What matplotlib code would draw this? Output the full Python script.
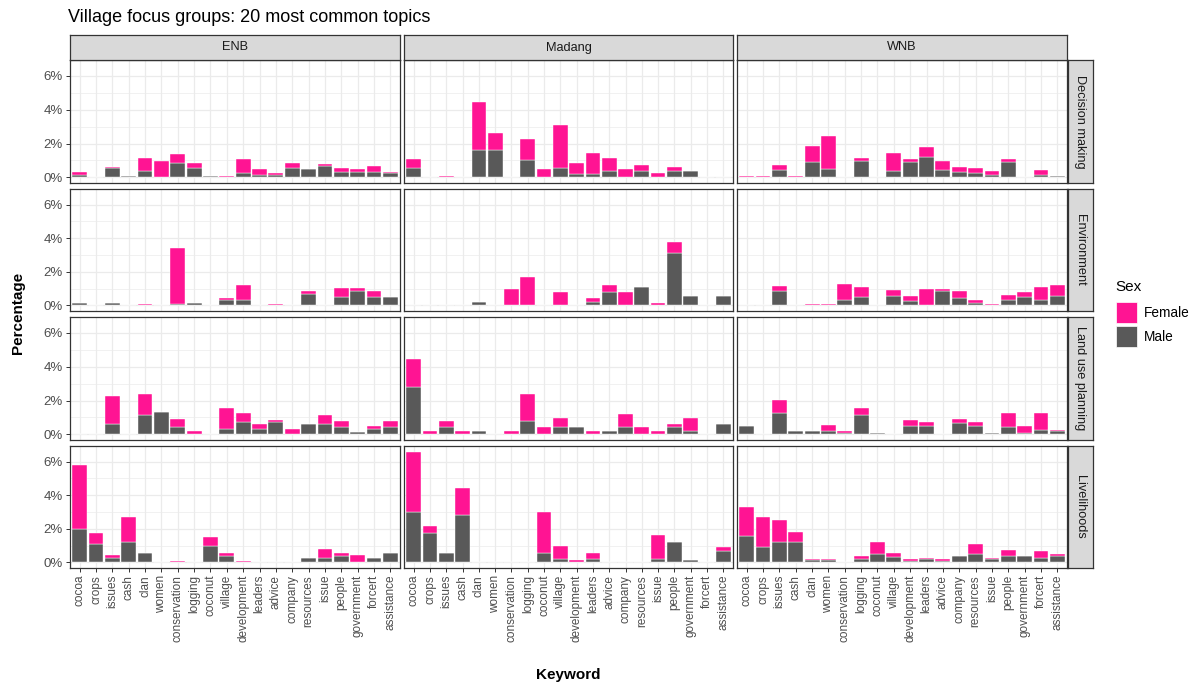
import matplotlib
matplotlib.use("Agg")
import matplotlib.pyplot as plt
from matplotlib.patches import Rectangle
from matplotlib.ticker import FuncFormatter, MultipleLocator
import numpy as np

plt.rcParams['font.family'] = ['Liberation Sans', 'DejaVu Sans']

keywords = ["cocoa", "crops", "issues", "cash", "clan", "women", "conservation",
            "logging", "coconut", "village", "development", "leaders", "advice",
            "company", "resources", "issue", "people", "government", "forcert",
            "assistance"]
regions = ["ENB", "Madang", "WNB"]
topics = ["Decision making", "Environment", "Land use planning", "Livelihoods"]

# percentages, one value per keyword
male_enb_decision = [0.14, 0, 0.53, 0.06, 0.40, 0, 0.85, 0.57, 0.06, 0, 0.26, 0.12, 0.12, 0.57, 0.50, 0.65, 0.32, 0.32, 0.32, 0.26]
female_enb_decision = [0.20, 0, 0.06, 0, 0.73, 0.95, 0.54, 0.26, 0, 0.06, 0.81, 0.38, 0.12, 0.26, 0, 0.12, 0.25, 0.18, 0.37, 0.06]
male_madang_decision = [0.57, 0, 0, 0, 1.64, 1.64, 0, 1.01, 0, 0.57, 0.18, 0.18, 0.38, 0, 0.38, 0, 0.38, 0.38, 0, 0]
female_madang_decision = [0.50, 0, 0.10, 0, 2.82, 0.96, 0, 1.27, 0.50, 2.52, 0.65, 1.29, 0.75, 0.50, 0.37, 0.26, 0.25, 0, 0, 0]
male_wnb_decision = [0, 0, 0.44, 0, 0.89, 0.50, 0, 0.97, 0, 0.38, 0.89, 1.19, 0.44, 0.32, 0.24, 0.12, 0.89, 0, 0.12, 0.06]
female_wnb_decision = [0.06, 0.06, 0.31, 0.06, 0.99, 1.94, 0, 0.16, 0, 1.07, 0.18, 0.61, 0.51, 0.31, 0.33, 0.24, 0.18, 0, 0.32, 0]

male_enb_environment = [0.12, 0, 0.12, 0, 0, 0, 0.10, 0.12, 0, 0.32, 0.32, 0, 0, 0, 0.67, 0, 0.48, 0.85, 0.48, 0.48]
female_enb_environment = [0, 0, 0, 0, 0.10, 0, 3.33, 0, 0, 0.14, 0.89, 0, 0.10, 0, 0.18, 0, 0.55, 0.18, 0.37, 0]
male_madang_environment = [0, 0, 0, 0, 0.22, 0, 0, 0, 0, 0, 0, 0.22, 0.79, 0, 1.11, 0, 3.11, 0.55, 0, 0.55]
female_madang_environment = [0, 0, 0, 0, 0, 0, 0.97, 1.68, 0, 0.79, 0, 0.20, 0.44, 0.79, 0, 0.14, 0.65, 0, 0, 0]
male_wnb_environment = [0, 0, 0.85, 0, 0, 0, 0.32, 0.48, 0, 0.57, 0.24, 0.04, 0.85, 0.42, 0.12, 0, 0.30, 0.48, 0.30, 0.55]
female_wnb_environment = [0, 0, 0.32, 0, 0.06, 0.06, 0.97, 0.63, 0, 0.36, 0.31, 0.93, 0.12, 0.43, 0.18, 0.06, 0.31, 0.31, 0.81, 0.68]

male_enb_landuse = [0, 0, 0.60, 0, 1.17, 1.35, 0.44, 0, 0, 0.30, 0.72, 0.30, 0.74, 0, 0.60, 0.60, 0.44, 0.16, 0.30, 0.44]
female_enb_landuse = [0, 0, 1.69, 0, 1.24, 0, 0.49, 0.22, 0, 1.25, 0.57, 0.30, 0.13, 0.34, 0, 0.57, 0.34, 0, 0.22, 0.34]
male_madang_landuse = [2.80, 0, 0.44, 0, 0.22, 0, 0, 0.78, 0, 0.44, 0.44, 0, 0.22, 0.44, 0, 0, 0.44, 0.22, 0, 0.60]
female_madang_landuse = [1.63, 0.22, 0.34, 0.22, 0, 0, 0.22, 1.63, 0.44, 0.55, 0, 0.22, 0, 0.79, 0.44, 0.22, 0.16, 0.77, 0, 0]
male_wnb_landuse = [0.50, 0, 1.29, 0.22, 0.22, 0.22, 0.10, 1.17, 0.10, 0, 0.48, 0.48, 0, 0.66, 0.48, 0.10, 0.42, 0.10, 0.28, 0.22]
female_wnb_landuse = [0, 0, 0.76, 0, 0, 0.32, 0.12, 0.38, 0, 0, 0.39, 0.24, 0, 0.27, 0.24, 0, 0.87, 0.38, 1.01, 0.06]

male_enb_livelihoods = [2.00, 1.07, 0.26, 1.19, 0.56, 0, 0, 0, 0.95, 0.38, 0, 0, 0, 0, 0.24, 0.24, 0.38, 0, 0.24, 0.56]
female_enb_livelihoods = [3.82, 0.68, 0.18, 1.49, 0, 0, 0.10, 0, 0.54, 0.18, 0.10, 0, 0, 0, 0, 0.56, 0.18, 0.44, 0, 0]
male_madang_livelihoods = [2.98, 1.74, 0.56, 2.80, 0, 0, 0, 0, 0.56, 0.20, 0, 0.20, 0, 0, 0, 0.20, 1.24, 0.16, 0, 0.70]
female_madang_livelihoods = [3.62, 0.44, 0, 1.62, 0, 0, 0, 0, 2.42, 0.80, 0.16, 0.36, 0, 0, 0, 1.44, 0, 0, 0, 0.22]
male_wnb_livelihoods = [1.56, 0.94, 1.22, 1.22, 0.12, 0.12, 0, 0.18, 0.50, 0.30, 0.10, 0.20, 0.10, 0.38, 0.50, 0.20, 0.38, 0.38, 0.26, 0.38]
female_wnb_livelihoods = [1.74, 1.74, 1.32, 0.58, 0.08, 0.08, 0, 0.20, 0.74, 0.26, 0.10, 0.06, 0.10, 0, 0.62, 0.06, 0.36, 0, 0.42, 0.12]

male = [[male_enb_decision, male_madang_decision, male_wnb_decision],
        [male_enb_environment, male_madang_environment, male_wnb_environment],
        [male_enb_landuse, male_madang_landuse, male_wnb_landuse],
        [male_enb_livelihoods, male_madang_livelihoods, male_wnb_livelihoods]]
female = [[female_enb_decision, female_madang_decision, female_wnb_decision],
          [female_enb_environment, female_madang_environment, female_wnb_environment],
          [female_enb_landuse, female_madang_landuse, female_wnb_landuse],
          [female_enb_livelihoods, female_madang_livelihoods, female_wnb_livelihoods]]

PINK = "#FF1493"
GREY = "#595959"
W, H = 1197, 684

fig = plt.figure(figsize=(W / 100, H / 100), dpi=100)

col_x = [(70, 400), (404, 733), (737, 1067)]
row_y = [(60, 183), (189, 311), (317, 440), (446, 568)]

# common y range like ggplot (5% expansion)
ymax_data = max(np.max(np.array(m) + np.array(f)) for mr, fr in zip(male, female) for m, f in zip(mr, fr))
ylo, yhi = -0.05 * ymax_data, ymax_data * 1.05

x = np.arange(1, len(keywords) + 1)


def box(x0, y0, x1, y1):
    return [x0 / W, 1 - y1 / H, (x1 - x0) / W, (y1 - y0) / H]


def strip(x0, y0, x1, y1, label, rot):
    sax = fig.add_axes(box(x0, y0, x1, y1))
    sax.set_facecolor("#D9D9D9")
    sax.set_xticks([])
    sax.set_yticks([])
    for s in sax.spines.values():
        s.set_color("#333333")
        s.set_linewidth(0.9)
    sax.text(0.5, 0.5, label, ha="center", va="center", fontsize=9.2,
             rotation=rot, color="#1A1A1A", transform=sax.transAxes)


for r in range(4):
    for c in range(3):
        ax = fig.add_axes(box(col_x[c][0], row_y[r][0], col_x[c][1], row_y[r][1]))
        m = np.array(male[r][c])
        f = np.array(female[r][c])
        ax.bar(x, m, width=0.9, color=GREY, edgecolor="white", linewidth=0.3, zorder=3)
        ax.bar(x, f, bottom=m, width=0.9, color=PINK, edgecolor="white", linewidth=0.3, zorder=3)
        ax.set_xlim(0.4, len(keywords) + 0.6)
        ax.set_ylim(ylo, yhi)
        ax.yaxis.set_major_locator(MultipleLocator(2))
        ax.yaxis.set_minor_locator(MultipleLocator(1))
        ax.yaxis.set_major_formatter(FuncFormatter(lambda v, p: f"{v:.0f}%"))
        ax.set_xticks(x)
        ax.grid(True, which="major", color="#EBEBEB", linewidth=0.9, zorder=0)
        ax.grid(True, which="minor", axis="y", color="#EBEBEB", linewidth=0.5, zorder=0)
        ax.set_axisbelow(True)
        for s in ax.spines.values():
            s.set_color("#333333")
            s.set_linewidth(0.9)
        ax.tick_params(which="minor", length=0)
        ax.tick_params(which="major", length=3, width=0.7, color="#333333",
                       labelsize=8.5, labelcolor="#4D4D4D", pad=2)
        ax.tick_params(axis="y", labelsize=9.5)
        if r == 3:
            ax.set_xticklabels(keywords, rotation=90)
        else:
            ax.tick_params(axis="x", labelbottom=False, length=0)
        if c != 0:
            ax.tick_params(axis="y", labelleft=False, length=0)

        if r == 0:
            strip(col_x[c][0], 35, col_x[c][1], 60, regions[c], 0)
        if c == 2:
            strip(1068, row_y[r][0], 1093, row_y[r][1], topics[r], -90)

fig.text(68 / W, 1 - 18 / H, "Village focus groups: 20 most common topics",
         ha="left", va="center", fontsize=13, color="black")
fig.text(18 / W, 1 - 313 / H, "Percentage", rotation=90, ha="center", va="center",
         fontsize=11, fontweight="bold")
fig.text(568 / W, 1 - 675 / H, "Keyword", ha="center", va="center",
         fontsize=11, fontweight="bold")

# legend
fig.text(1115 / W, 1 - 287 / H, "Sex", ha="left", va="center", fontsize=11)
for i, (lab, col) in enumerate([("Female", PINK), ("Male", GREY)]):
    y0 = 302 + i * 24
    fig.patches.append(Rectangle((1116 / W, 1 - (y0 + 21) / H), 21 / W, 21 / H,
                                 facecolor=col, edgecolor="white", linewidth=0.5,
                                 transform=fig.transFigure, figure=fig))
    fig.text(1144 / W, 1 - (y0 + 11) / H, lab, ha="left", va="center", fontsize=9.8)

fig.savefig("out.png", dpi=100)
